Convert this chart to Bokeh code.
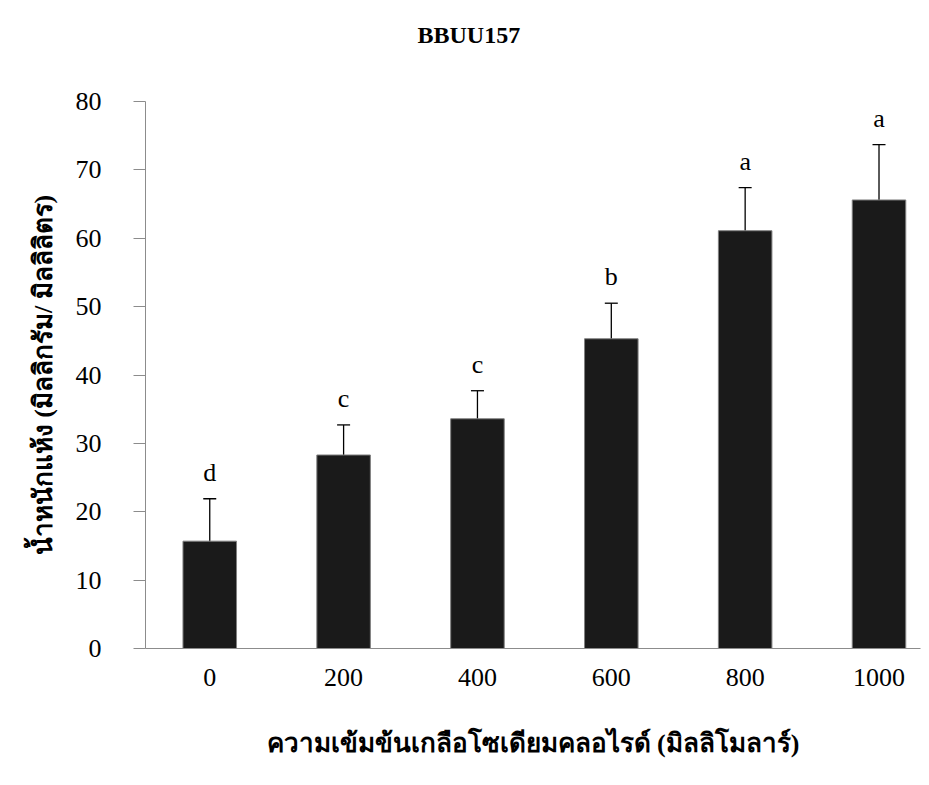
from bokeh.plotting import figure
from bokeh.models import Range1d, FixedTicker, Whisker, ColumnDataSource, Title, LabelSet, TeeHead
from bokeh.embed import file_html
from bokeh.resources import INLINE

# ---- data ----
concentrations = ["0", "200", "400", "600", "800", "1000"]
dry_weight = [15.7, 28.3, 33.6, 45.3, 61.1, 65.6]
std_err = [6.2, 4.4, 4.1, 5.2, 6.3, 8.1]
letters = ["d", "c", "c", "b", "a", "a"]
y_ticks = [0, 10, 20, 30, 40, 50, 60, 70, 80]

title_text = "BBUU157"
x_title = "ความเข้มข้นเกลือโซเดียมคลอไรด์ (มิลลิโมลาร์)"
y_title = "น้ำหนักแห้ง (มิลลิกรัม/ มิลลิลิตร)"

xs = list(range(len(concentrations)))
src = ColumnDataSource(dict(
    x=xs,
    top=dry_weight,
    upper=[v + e for v, e in zip(dry_weight, std_err)],
    lower=[v - e for v, e in zip(dry_weight, std_err)],
    letter=letters,
))

SERIF = "Liberation Serif"

p = figure(width=921, height=777,
           x_range=Range1d(-0.48, 5.31), y_range=Range1d(0, 80),
           output_backend="svg", toolbar_location=None,
           min_border_left=145, min_border_right=1,
           min_border_top=101, min_border_bottom=129)

# blank spacer between the frame and the title
p.add_layout(Title(text=" ", text_font=SERIF, text_font_size="24px",
                   standoff=21), "above")

p.title = Title(text=title_text, text_font=SERIF, text_font_size="24px",
                text_font_style="bold", align="left", offset=272,
                standoff=10, text_color="black")

p.vbar(x="x", top="top", width=0.4, source=src,
       fill_color="#1a1a1a", line_color="#808080", line_width=1)

w = Whisker(base="x", upper="upper", lower="lower", source=src,
            line_color="black", line_width=1.3,
            upper_head=TeeHead(size=13, line_color="black", line_width=1.3),
            lower_head=TeeHead(size=13, line_color="black", line_width=1.3))
p.add_layout(w)

labels = LabelSet(x="x", y="upper", text="letter", source=src,
                  text_align="center", text_baseline="alphabetic", y_offset=18,
                  text_font=SERIF, text_font_size="26px", text_color="black")
p.add_layout(labels)

p.grid.visible = False
p.outline_line_color = None

p.yaxis.ticker = FixedTicker(ticks=y_ticks)
p.yaxis.axis_line_color = "#8c8c8c"
p.yaxis.major_tick_line_color = "#8c8c8c"
p.yaxis.major_tick_out = 12
p.yaxis.major_tick_in = 0
p.yaxis.minor_tick_line_color = None
p.yaxis.major_label_text_font = SERIF
p.yaxis.major_label_text_font_size = "26px"
p.yaxis.major_label_text_color = "black"
p.yaxis.major_label_standoff = 32
p.yaxis.axis_label = y_title
p.yaxis.axis_label_text_font = SERIF
p.yaxis.axis_label_text_font_size = "26px"
p.yaxis.axis_label_text_font_style = "bold"
p.yaxis.axis_label_text_color = "black"
p.yaxis.axis_label_standoff = 15

p.xaxis.ticker = FixedTicker(ticks=xs)
p.xaxis.major_label_overrides = {i: c for i, c in zip(xs, concentrations)}
p.xaxis.axis_line_color = "#8c8c8c"
p.xaxis.major_tick_line_color = None
p.xaxis.minor_tick_line_color = None
p.xaxis.major_label_text_font = SERIF
p.xaxis.major_label_text_font_size = "26px"
p.xaxis.major_label_text_color = "black"
p.xaxis.major_label_standoff = 14
p.xaxis.axis_label = x_title
p.xaxis.axis_label_text_font = SERIF
p.xaxis.axis_label_text_font_size = "26px"
p.xaxis.axis_label_text_font_style = "bold"
p.xaxis.axis_label_text_color = "black"
p.xaxis.axis_label_standoff = 40

open("out.html", "w").write(file_html(p, INLINE))
